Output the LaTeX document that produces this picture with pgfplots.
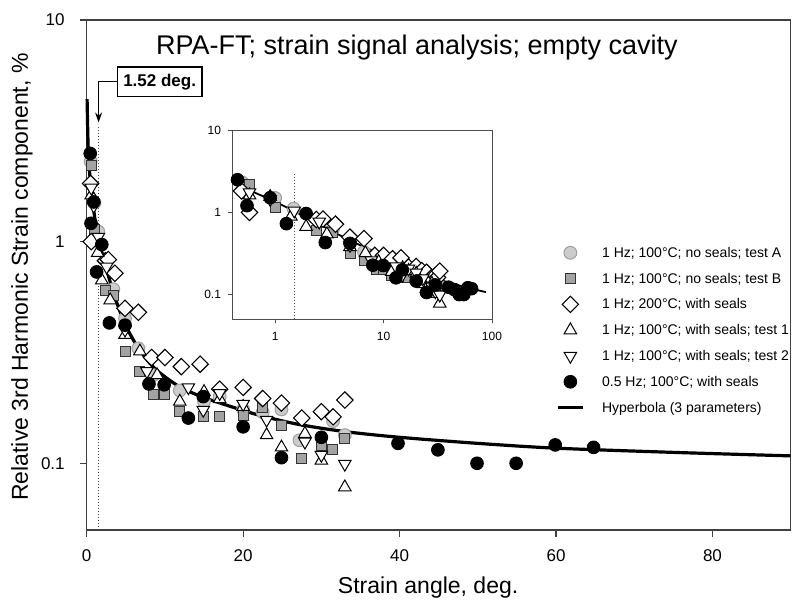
\documentclass[border=0pt]{standalone}
\usepackage{fontspec}
\setmainfont{Liberation Sans}
\usepackage{pgfplots}
\usepackage{pgfplotstable}
\pgfplotsset{compat=1.18}
\usetikzlibrary{arrows.meta}

\pgfplotstableread{
x y
0.5 2.3
1.0 1.5
1.48 1.11
3.4 0.61
4.9 0.45
6.6 0.33
8.5 0.25
11.9 0.213
15 0.19
17 0.2
20 0.175
22.5 0.17
24.9 0.175
27.2 0.127
31.5 0.155
33 0.134
}\serA
\pgfplotstableread{
x y
0.58 2.2
1.0 1.14
2.4 0.6
3.4 0.57
4.9 0.32
6.7 0.26
8.5 0.205
9.9 0.205
11.9 0.172
14.9 0.162
17 0.162
20 0.165
22.5 0.178
24.9 0.149
27.5 0.105
30 0.12
31.4 0.116
33 0.13
}\serB
\pgfplotstableread{
x y
0.49 1.83
0.58 1.0
2.4 0.82
2.76 0.83
3.6 0.72
4.9 0.5
6.6 0.48
8.3 0.3
10 0.3
12.1 0.273
14.5 0.28
17 0.216
20 0.22
22.5 0.196
24.9 0.187
27.5 0.16
30 0.171
31.5 0.162
33 0.193
}\serC
\pgfplotstableread{
x y
0.58 1.62
0.9 1.55
1.4 0.89
1.93 0.67
3.0 0.544
4.9 0.38
6.8 0.32
9 0.25
11.9 0.19
15 0.21
17 0.195
20 0.18
23 0.134
24.9 0.118
27.9 0.136
30 0.103
33 0.078
}\serD
\pgfplotstableread{
x y
0.58 1.75
0.9 1.45
1.5 1.05
2.55 0.77
4.9 0.4
7.7 0.26
13 0.22
14.9 0.174
17 0.207
20 0.185
23 0.157
27.9 0.125
30 0.109
33 0.0993
}\serE
\pgfplotstableread{
x y
0.45 2.5
0.55 1.21
0.9 1.51
1.27 0.73
1.93 0.97
2.9 0.43
4.9 0.42
7.96 0.228
9.9 0.226
13 0.16
14.9 0.2
20 0.146
24.9 0.106
30 0.131
39.8 0.123
44.9 0.115
49.9 0.1
54.9 0.1
59.9 0.121
64.8 0.118
}\serF
\pgfplotstableread{
x y
0.05 4.4
0.2 2.6
0.5 1.8
0.85 1.42
1.2 1.18
1.7 0.97
2.5 0.76
3.4 0.59
4.2 0.49
5.1 0.41
6.5 0.335
8 0.285
9.4 0.255
12 0.22
15 0.198
18.5 0.18
22 0.165
27 0.15
33 0.139
40 0.131
50 0.123
60 0.117
75 0.112
90 0.108
}\fitMain
\pgfplotstableread{
x y
0.4 2.3
1 1.35
2 0.85
5 0.45
10 0.3
20 0.195
40 0.14
88 0.107
}\fitInset

\pgfplotsset{
  sA/.style={only marks, mark=*, mark size=3.2pt, mark options={fill=gray!40, draw=gray!75, line width=0.5pt}},
  sB/.style={only marks, mark=square*, mark size=2.5pt, mark options={fill=gray!72, draw=black!80, line width=0.4pt}},
  sC/.style={only marks, mark=square*, mark size=2.9pt, mark options={fill=white, draw=black, rotate=45, line width=0.55pt}},
  sD/.style={only marks, mark=triangle*, mark size=3.6pt, mark options={fill=white, draw=black, line width=0.5pt}},
  sE/.style={only marks, mark=triangle*, mark size=3.6pt, mark options={fill=white, draw=black, rotate=180, line width=0.5pt}},
  sF/.style={only marks, mark=*, mark size=3.2pt, mark options={fill=black, draw=black}},
}

\begin{document}
\begin{tikzpicture}
\path[use as bounding box] (-43.35pt,-35pt) rectangle (355.15pt,265pt);
\begin{axis}[
  at={(0,0)}, anchor=south west,
  width=352pt, height=255pt, scale only axis,
  xmin=0, xmax=90, ymode=log, ymin=0.05, ymax=10,
  xtick={0,20,40,60,80}, ytick={0.1,1,10}, yticklabels={0.1,1,10},
  yminorticks=false,
  xtick pos=left, ytick pos=left,
  tick align=outside, major tick length=3.5pt,
  axis line style={black!75, line width=0.6pt},
  tick style={black!75, line width=0.6pt},
  /pgf/number format/assume math mode=true,
  ticklabel style={font=\fontsize{8.5}{10}\selectfont},
  xticklabel style={yshift=-3pt}, yticklabel style={xshift=-4pt},
  xlabel={Strain angle, deg.},
  ylabel={Relative 3rd Harmonic Strain component, \%},
  label style={font=\fontsize{11.5}{13}\selectfont},
  xlabel style={at={(axis description cs:0.485,-0.112)}, anchor=center},
  ylabel style={at={(axis description cs:-0.092,0.496)}, anchor=center},
  clip=false,
  legend cell align=left,
  legend style={at={(axis description cs:0.667,0.563)}, anchor=north west, draw=none, fill=none,
    font=\fontsize{7}{8}\selectfont, inner sep=0pt, row sep=3.4pt, column sep=8pt,
    nodes={inner sep=1pt, text height=6pt, text depth=1.5pt}},
]
\addplot[sA] table {\serA};
\addlegendentry{1 Hz; 100°C; no seals; test A}
\addplot[sB] table {\serB};
\addlegendentry{1 Hz; 100°C; no seals; test B}
\addplot[sC] table {\serC};
\addlegendentry{1 Hz; 200°C; with seals}
\addplot[sD] table {\serD};
\addlegendentry{1 Hz; 100°C; with seals; test 1}
\addplot[sE] table {\serE};
\addlegendentry{1 Hz; 100°C; with seals; test 2}
\addplot[sF] table {\serF};
\addlegendentry{0.5 Hz; 100°C; with seals}
\addplot[black, line width=1.6pt, smooth, no marks,
  legend image code/.code={\draw[black, line width=1.2pt] (0.08cm,0cm) -- (0.52cm,0cm);}] table {\fitMain};
\addlegendentry{Hyperbola (3 parameters)}
\draw[densely dotted, black!70, line width=0.5pt] (axis cs:1.52,0.05) -- (axis cs:1.52,3.3);
\draw[-{Stealth[length=5pt,width=3.5pt]}, black, line width=0.5pt] (axis cs:3.83,5.27) -| (axis cs:1.52,3.45);
\node[draw, fill=white, anchor=west, inner xsep=3pt, minimum height=14.5pt, line width=0.6pt,
  font=\bfseries\fontsize{8.5}{10}\selectfont] at (axis cs:3.83,5.27) {1.52 deg.};
\node[font=\fontsize{13.5}{15}\selectfont] at (rel axis cs:0.469,0.947) {RPA-FT; strain signal analysis; empty cavity};
\end{axis}

\begin{axis}[
  at={(72.65pt,105.35pt)}, anchor=south west,
  width=130pt, height=94.5pt, scale only axis,
  xmode=log, ymode=log, xmin=0.4, xmax=100, ymin=0.05, ymax=10,
  xtick={1,10,100}, xticklabels={1,10,100},
  ytick={0.1,1,10}, yticklabels={0.1,1,10},
  xminorticks=false, yminorticks=false,
  xtick pos=left, ytick pos=left,
  tick align=outside, major tick length=2pt,
  axis line style={black!70, line width=0.5pt},
  tick style={black!70, line width=0.5pt},
  /pgf/number format/assume math mode=true,
  ticklabel style={font=\fontsize{6}{7}\selectfont},
  xticklabel style={yshift=-1pt},
  axis background/.style={fill=white},
  every mark/.append style={scale=0.75},
]
\addplot[sA] table {\serA};
\addplot[sB] table {\serB};
\addplot[sC] table {\serC};
\addplot[sD] table {\serD};
\addplot[sE] table {\serE};
\addplot[sF] table {\serF};
\addplot[black, line width=0.9pt, smooth, no marks] table {\fitInset};
\draw[densely dotted, black!70, line width=0.5pt] (axis cs:1.52,0.05) -- (axis cs:1.52,3);
\end{axis}
\end{tikzpicture}
\end{document}
